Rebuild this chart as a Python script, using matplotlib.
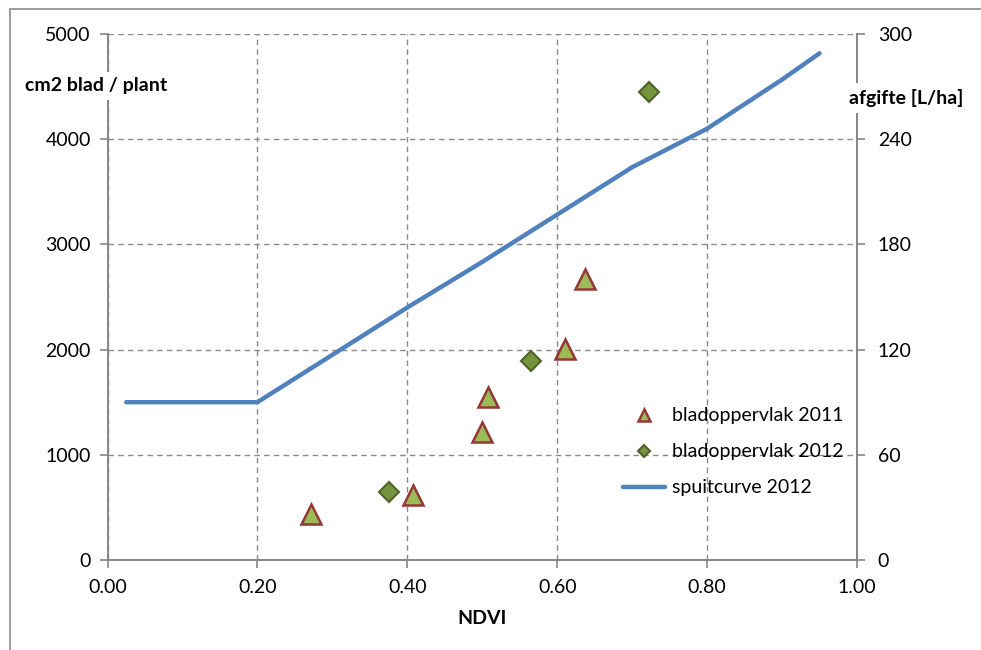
import matplotlib
matplotlib.use("Agg")
import matplotlib.pyplot as plt
import matplotlib.patches as patches
from matplotlib.ticker import FormatStrFormatter, MultipleLocator

plt.rcParams['font.family'] = ['Lato', 'DejaVu Sans']

# bladoppervlak 2011 (driehoeken)
ndvi_2011 = [0.272, 0.408, 0.499, 0.508, 0.610, 0.637]
blad_2011 = [442, 618, 1214, 1553, 2006, 2671]

# bladoppervlak 2012 (ruiten)
ndvi_2012 = [0.376, 0.565, 0.723]
blad_2012 = [644, 1892, 4452]

# spuitcurve 2012 (rechter as, L/ha)
ndvi_curve = [0.025, 0.20, 0.30, 0.40, 0.50, 0.60, 0.70, 0.80, 0.90, 0.95]
afgifte_curve = [90, 90, 117, 144, 170, 197, 224, 246, 274, 289]

W, H = 981, 650
fig = plt.figure(figsize=(W / 100, H / 100), dpi=100)
ax = fig.add_axes([107.5 / W, 1 - 560 / H, (857 - 107.5) / W, (560 - 34) / H])
ax2 = ax.twinx()

grey = '#868686'
fs = 14

# rand om de hele grafiek
fig.patches.append(patches.Rectangle((9.5 / W, -0.5), 2, 1 - 9.5 / H + 0.5,
                                     transform=fig.transFigure, fill=False,
                                     edgecolor='#8c8c8c', lw=1.2))

ax.set_xlim(0, 1)
ax.set_ylim(0, 5000)
ax2.set_ylim(0, 300)
ax.xaxis.set_major_locator(MultipleLocator(0.2))
ax.xaxis.set_major_formatter(FormatStrFormatter('%.2f'))
ax.yaxis.set_major_locator(MultipleLocator(1000))
ax2.yaxis.set_major_locator(MultipleLocator(60))

ax.grid(True, color='#8a8a8a', linestyle=(0, (4, 3)), linewidth=1.0)
ax.set_axisbelow(True)

for a in (ax, ax2):
    a.spines['top'].set_visible(False)
    for s in ('left', 'right', 'bottom'):
        a.spines[s].set_color(grey)
        a.spines[s].set_linewidth(1.2)
ax.tick_params(axis='both', direction='out', length=6, width=1.2, color=grey,
               labelsize=fs, labelcolor='black')
ax.tick_params(axis='x', pad=8)
ax.tick_params(axis='y', pad=6)
ax2.tick_params(axis='y', direction='out', length=6, width=1.2, color=grey,
                labelsize=fs, labelcolor='black', pad=9)

h1, = ax.plot(ndvi_2011, blad_2011, linestyle='none', marker='^', markersize=15,
              markerfacecolor='#9BBB59', markeredgecolor='#953735',
              markeredgewidth=1.8, label='bladoppervlak 2011', zorder=4)
h2, = ax.plot(ndvi_2012, blad_2012, linestyle='none', marker='D', markersize=10,
              markerfacecolor='#77933C', markeredgecolor='#4F6228',
              markeredgewidth=1.5, label='bladoppervlak 2012', zorder=4)
h3, = ax2.plot(ndvi_curve, afgifte_curve, color='#4F81BD', linewidth=3.2,
               solid_capstyle='round', label='spuitcurve 2012', zorder=3)

ax2.legend(handles=[h1, h2, h3], frameon=False, fontsize=fs,
           loc='upper left', bbox_to_anchor=(0.677, 0.305),
           handlelength=2.2, labelspacing=0.98, handletextpad=0.35,
           markerscale=0.6, borderaxespad=0)

fig.text(25 / W, 1 - 86 / H, 'cm2 blad / plant', fontsize=fs, fontweight='bold',
         ha='left', va='center',
         bbox=dict(facecolor='white', edgecolor='none', pad=4))
fig.text(849 / W, 1 - 98 / H, 'afgifte [L/ha]', fontsize=fs, fontweight='bold',
         ha='left', va='center',
         bbox=dict(facecolor='white', edgecolor='none', pad=4))
fig.text(482 / W, 1 - 619 / H, 'NDVI', fontsize=fs, fontweight='bold',
         ha='center', va='center')

fig.savefig('out.png', dpi=100, facecolor='white')
